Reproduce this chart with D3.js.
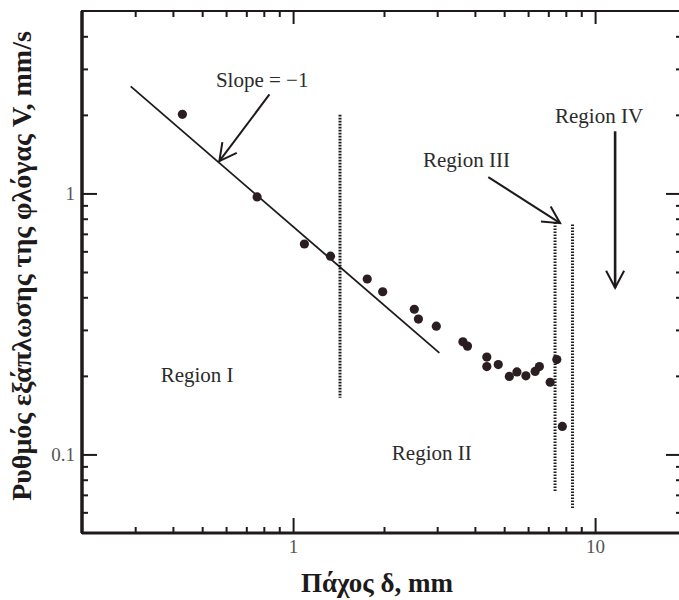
<!DOCTYPE html>
<html>
<head>
<meta charset="utf-8">
<script src="https://cdn.jsdelivr.net/npm/d3@7"></script>
<style>
  body { margin: 0; background: #fff; }
  svg text { font-family: "Liberation Serif", "DejaVu Serif", serif; }
</style>
</head>
<body>
<svg id="chart"></svg>
<script>
// measured points: film thickness (mm) vs flame spread rate (mm/s)
var thickness  = [0.43, 0.76, 1.09, 1.33, 1.76, 1.98, 2.52, 2.60, 2.98, 3.65, 3.78, 4.38, 4.38, 4.78, 5.20, 5.51, 5.90, 6.33, 6.54, 7.10, 7.47, 7.79];
var spreadRate = [2.01, 0.97, 0.64, 0.575, 0.47, 0.42, 0.36, 0.33, 0.31, 0.27, 0.26, 0.236, 0.217, 0.221, 0.199, 0.207, 0.200, 0.208, 0.217, 0.189, 0.231, 0.128];

// slope = -1 reference line (end points)
var slopeLineX = [0.29, 3.05];
var slopeLineY = [2.57, 0.245];

// dotted region boundaries
var boundaryX      = [1.43, 7.37, 8.42];
var boundaryTop    = [2.0, 0.774, 0.761];
var boundaryBottom = [0.165, 0.0715, 0.0621];

// annotation arrows [from, to] in data units
var arrowFrom = [[0.835, 2.395], [4.43, 1.155], [11.65, 1.73]];
var arrowTo   = [[0.57, 1.33],   [7.66, 0.769], [11.65, 0.435]];

// annotation texts and their anchors
var noteText = ["Slope = \u22121", "Region I", "Region II", "Region III", "Region IV"];
var noteX    = [0.79, 0.481, 2.88, 3.75, 10.31];
var noteY    = [2.55, 0.189, 0.0948, 1.258, 1.855];

// ticks
var xMajor = [1, 10];
var xMinor = [0.3, 0.4, 0.5, 0.6, 0.7, 0.8, 0.9, 2, 3, 4, 5, 6, 7, 8, 9];
var yMajor = [0.1, 1];
var yMinor = [0.06, 0.07, 0.08, 0.09, 0.2, 0.3, 0.4, 0.5, 0.6, 0.7, 0.8, 0.9, 2, 3, 4];

var xTitle = "\u03a0\u03ac\u03c7\u03bf\u03c2 \u03b4, mm";
var yTitle = "\u03a1\u03c5\u03b8\u03bc\u03cc\u03c2 \u03b5\u03be\u03ac\u03c0\u03bb\u03c9\u03c3\u03b7\u03c2 \u03c4\u03b7\u03c2 \u03c6\u03bb\u03cc\u03b3\u03b1\u03c2 V, mm/s";

var width = 679, height = 600;
var plotLeft = 82, plotRight = 686, plotTop = 11, plotBottom = 533;

var x = d3.scaleLog().domain([0.2, 20]).range([plotLeft, plotRight]);
var y = d3.scaleLog().domain([0.05, 5]).range([plotBottom, plotTop]);

var svg = d3.select("#chart").attr("width", width).attr("height", height);

var ink = "#1e1a1b";

// arrow head marker
svg.append("defs").append("marker")
  .attr("id", "head")
  .attr("markerUnits", "userSpaceOnUse")
  .attr("viewBox", "-20 -12 24 24")
  .attr("refX", 0).attr("refY", 0)
  .attr("markerWidth", 24).attr("markerHeight", 24)
  .attr("orient", "auto")
  .append("path")
    .attr("d", "M-17,-9 L0,0 L-17,9")
    .attr("fill", "none")
    .attr("stroke", ink)
    .attr("stroke-width", 2);

// frame
svg.append("rect")
  .attr("x", plotLeft).attr("y", plotTop)
  .attr("width", plotRight - plotLeft).attr("height", plotBottom - plotTop)
  .attr("fill", "none").attr("stroke", ink).attr("stroke-width", 2);
svg.append("line")
  .attr("x1", plotLeft).attr("x2", plotLeft).attr("y1", plotTop).attr("y2", plotBottom)
  .attr("stroke", ink).attr("stroke-width", 3.5);
svg.append("line")
  .attr("x1", plotLeft).attr("x2", plotRight).attr("y1", plotBottom).attr("y2", plotBottom)
  .attr("stroke", ink).attr("stroke-width", 2.8);

function tickAxis(axis, g, size, labels) {
  axis.tickSizeInner(-size).tickSizeOuter(0).tickPadding(7);
  if (!labels) axis.tickFormat("");
  g.call(axis);
  g.select(".domain").remove();
  g.selectAll(".tick line").attr("stroke", ink).attr("stroke-width", 2);
  g.selectAll(".tick text")
    .attr("font-family", "Liberation Serif, serif")
    .attr("font-size", 19)
    .attr("fill", "#555");
}

// bottom
tickAxis(d3.axisBottom(x).tickValues(xMinor), svg.append("g").attr("transform", "translate(0," + plotBottom + ")"), 6, false);
tickAxis(d3.axisBottom(x).tickValues(xMajor).tickFormat(d3.format("d")), svg.append("g").attr("transform", "translate(0," + plotBottom + ")"), 15, true);
// top
tickAxis(d3.axisTop(x).tickValues(xMinor), svg.append("g").attr("transform", "translate(0," + plotTop + ")"), 6, false);
tickAxis(d3.axisTop(x).tickValues(xMajor), svg.append("g").attr("transform", "translate(0," + plotTop + ")"), 13, false);
// left
tickAxis(d3.axisLeft(y).tickValues(yMinor), svg.append("g").attr("transform", "translate(" + plotLeft + ",0)"), 6, false);
tickAxis(d3.axisLeft(y).tickValues(yMajor).tickFormat(d3.format("")), svg.append("g").attr("transform", "translate(" + plotLeft + ",0)"), 15, true);
// right
tickAxis(d3.axisRight(y).tickValues(yMinor), svg.append("g").attr("transform", "translate(" + plotRight + ",0)"), 10, false);
tickAxis(d3.axisRight(y).tickValues(yMajor), svg.append("g").attr("transform", "translate(" + plotRight + ",0)"), 20, false);

// slope line
svg.append("line")
  .attr("x1", x(slopeLineX[0])).attr("y1", y(slopeLineY[0]))
  .attr("x2", x(slopeLineX[1])).attr("y2", y(slopeLineY[1]))
  .attr("stroke", ink).attr("stroke-width", 1.8);

// dotted boundaries
svg.selectAll(".boundary")
  .data(boundaryX)
  .enter().append("line")
    .attr("class", "boundary")
    .attr("x1", d => x(d)).attr("x2", d => x(d))
    .attr("y1", (d, i) => y(boundaryTop[i]))
    .attr("y2", (d, i) => y(boundaryBottom[i]))
    .attr("stroke", ink)
    .attr("stroke-width", 3)
    .attr("stroke-dasharray", "1.6,1.4");

// arrows
svg.selectAll(".arrow")
  .data(arrowFrom)
  .enter().append("line")
    .attr("class", "arrow")
    .attr("x1", d => x(d[0])).attr("y1", d => y(d[1]))
    .attr("x2", (d, i) => x(arrowTo[i][0])).attr("y2", (d, i) => y(arrowTo[i][1]))
    .attr("stroke", ink)
    .attr("stroke-width", (d, i) => i === 2 ? 2.6 : 2)
    .attr("marker-end", "url(#head)");

// data points
svg.selectAll("circle")
  .data(thickness)
  .enter().append("circle")
    .attr("cx", d => x(d))
    .attr("cy", (d, i) => y(spreadRate[i]))
    .attr("r", 4.6)
    .attr("fill", "#2a1e21");

// annotation labels
svg.selectAll(".note")
  .data(noteText)
  .enter().append("text")
    .attr("class", "note")
    .attr("x", (d, i) => x(noteX[i]))
    .attr("y", (d, i) => y(noteY[i]))
    .attr("text-anchor", "middle")
    .attr("font-size", 21)
    .attr("fill", "#2b2b2b")
    .text(d => d);

// axis titles
svg.append("text")
  .attr("x", 377).attr("y", 592)
  .attr("text-anchor", "middle")
  .attr("font-size", 27).attr("font-weight", "bold")
  .attr("fill", ink)
  .text(xTitle);

svg.append("text")
  .attr("transform", "translate(31,266) rotate(-90)")
  .attr("text-anchor", "middle")
  .attr("font-size", 28).attr("font-weight", "bold")
  .attr("fill", ink)
  .text(yTitle);
</script>
</body>
</html>
